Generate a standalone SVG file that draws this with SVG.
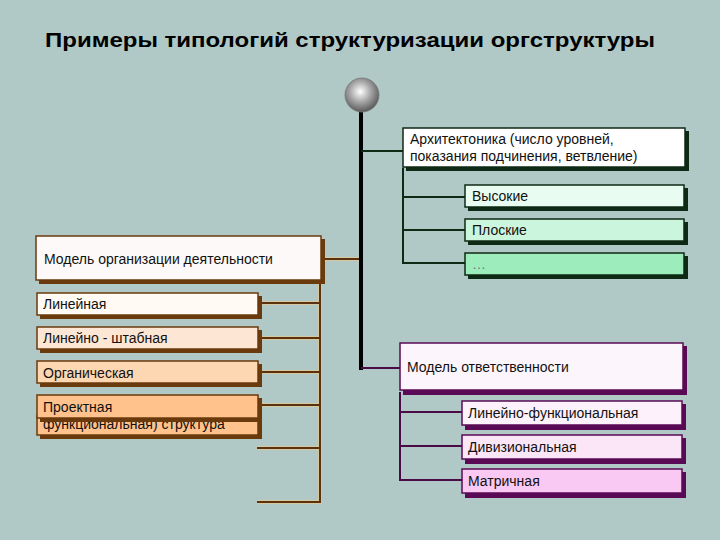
<svg xmlns="http://www.w3.org/2000/svg" width="720" height="540" viewBox="0 0 720 540">
<defs>
<radialGradient id="ball" cx="0.45" cy="0.4" r="0.6">
<stop offset="0" stop-color="#ffffff"/>
<stop offset="0.5" stop-color="#a8a8a8"/>
<stop offset="1" stop-color="#5a5a5a"/>
</radialGradient>
<style>
text{font-family:"Liberation Sans",Arial,sans-serif;font-size:14px;fill:#111}
.title{font-size:21px;font-weight:bold;fill:#000}
.g{stroke:#0e2a14;stroke-width:2;fill:none}
.b{stroke:#5a3210;stroke-width:2;fill:none}
.bh{stroke:#d8c8a0;stroke-width:4;fill:none}
.p{stroke:#4a0a48;stroke-width:2;fill:none}
.gs{fill:#0e2a14}
.bs{fill:#6a3a0c}
.ps{fill:#5a0a55}
.gb{stroke:#0e2a14;stroke-width:1.5}
.bb{stroke:#6a3a0c;stroke-width:1.5}
.pb{stroke:#5a0a55;stroke-width:1.5}
</style>
</defs>
<rect width="720" height="540" fill="#b0c9c7"/>
<text class="title" x="45" y="47" textLength="610" lengthAdjust="spacingAndGlyphs">Примеры типологий структуризации оргструктуры</text>

<g id="connectors">
<line x1="361" y1="110" x2="361" y2="370" stroke="#000" stroke-width="4"/>
<line class="g" x1="361" y1="151" x2="403" y2="151"/>
<polyline class="g" points="403,168 403,263 465,263"/>
<line class="g" x1="403" y1="197" x2="465" y2="197"/>
<line class="g" x1="403" y1="230" x2="465" y2="230"/>
<line class="bh" x1="323" y1="259" x2="359" y2="259"/>
<line class="b" x1="323" y1="259" x2="359" y2="259"/>
<g>
<polyline class="bh" points="320,282 320,502 257,502"/>
<line class="bh" x1="260" y1="303" x2="320" y2="303"/>
<line class="bh" x1="260" y1="338" x2="320" y2="338"/>
<line class="bh" x1="260" y1="372" x2="320" y2="372"/>
<line class="bh" x1="260" y1="405" x2="320" y2="405"/>
<line class="bh" x1="257" y1="448" x2="320" y2="448"/>
<polyline class="b" points="320,282 320,502 257,502"/>
<line class="b" x1="260" y1="303" x2="320" y2="303"/>
<line class="b" x1="260" y1="338" x2="320" y2="338"/>
<line class="b" x1="260" y1="372" x2="320" y2="372"/>
<line class="b" x1="260" y1="405" x2="320" y2="405"/>
<line class="b" x1="257" y1="448" x2="320" y2="448"/>
</g>
<polyline class="p" points="361,368 400,368"/>
<polyline class="p" points="400,392 400,480 462,480"/>
<line class="p" x1="400" y1="412" x2="462" y2="412"/>
<line class="p" x1="400" y1="446" x2="462" y2="446"/>
</g>

<g id="root">
<circle cx="362" cy="95" r="17" fill="url(#ball)" stroke="#777" stroke-width="0.8"/>
</g>

<g id="arch">
<rect class="gs" x="406" y="131" width="283" height="40"/>
<rect class="gb" x="403" y="128" width="282" height="39" fill="#ffffff"/>
<text x="410" y="144">Архитектоника (число уровней,</text>
<text x="410" y="161">показания подчинения, ветвление)</text>
</g>
<g id="high">
<rect class="gs" x="468" y="188" width="220" height="23"/>
<rect class="gb" x="465" y="185" width="219" height="22" fill="#e8fcf2"/>
<text x="472" y="201">Высокие</text>
</g>
<g id="flat">
<rect class="gs" x="468" y="222" width="220" height="23"/>
<rect class="gb" x="465" y="219" width="219" height="22" fill="#ccf5de"/>
<text x="472" y="235">Плоские</text>
</g>
<g id="etc">
<rect class="gs" x="468" y="256" width="220" height="23"/>
<rect class="gb" x="465" y="253" width="219" height="22" fill="#9cedbb"/>
<text x="472" y="269" style="fill:#777">…</text>
</g>

<g id="model-act">
<rect class="bs" x="39" y="239" width="286" height="45"/>
<rect class="bb" x="36" y="236" width="285" height="44" fill="#fcf9f8"/>
<text x="44" y="264">Модель организации деятельности</text>
</g>
<g id="linear">
<rect class="bs" x="40" y="296" width="222" height="23"/>
<rect class="bb" x="37" y="293" width="221" height="22" fill="#fffaf4"/>
<text x="43" y="309">Линейная</text>
</g>
<g id="linear-staff">
<rect class="bs" x="40" y="330" width="222" height="23"/>
<rect class="bb" x="37" y="327" width="221" height="22" fill="#fde7d4"/>
<text x="43" y="343">Линейно - штабная</text>
</g>
<g id="organic">
<rect class="bs" x="40" y="364" width="222" height="23"/>
<rect class="bb" x="37" y="361" width="221" height="22" fill="#fdd6b2"/>
<text x="43" y="378">Органическая</text>
</g>
<g id="project">
<rect class="bs" x="40" y="419" width="222" height="20"/>
<rect class="bb" x="37" y="416" width="221" height="19" fill="#ffc28c"/>
<text x="43" y="429">функциональная) структура</text>
<rect class="bs" x="40" y="398" width="222" height="24"/>
<rect class="bb" x="37" y="395" width="221" height="23" fill="#ffc28c"/>
<text x="43" y="412">Проектная</text>
</g>

<g id="model-resp">
<rect class="ps" x="403" y="346" width="284" height="49"/>
<rect class="pb" x="400" y="343" width="283" height="47" fill="#fdf5fc"/>
<text x="407" y="372">Модель ответственности</text>
</g>
<g id="linfunc">
<rect class="ps" x="465" y="404" width="221" height="26"/>
<rect class="pb" x="462" y="401" width="220" height="24" fill="#fdf1fb"/>
<text x="468" y="418">Линейно-функциональная</text>
</g>
<g id="div">
<rect class="ps" x="465" y="438" width="221" height="26"/>
<rect class="pb" x="462" y="435" width="220" height="24" fill="#fbe6f7"/>
<text x="468" y="452">Дивизиональная</text>
</g>
<g id="matrix">
<rect class="ps" x="465" y="472" width="221" height="26"/>
<rect class="pb" x="462" y="469" width="220" height="24" fill="#f9c9f3"/>
<text x="468" y="486">Матричная</text>
</g>
</svg>
